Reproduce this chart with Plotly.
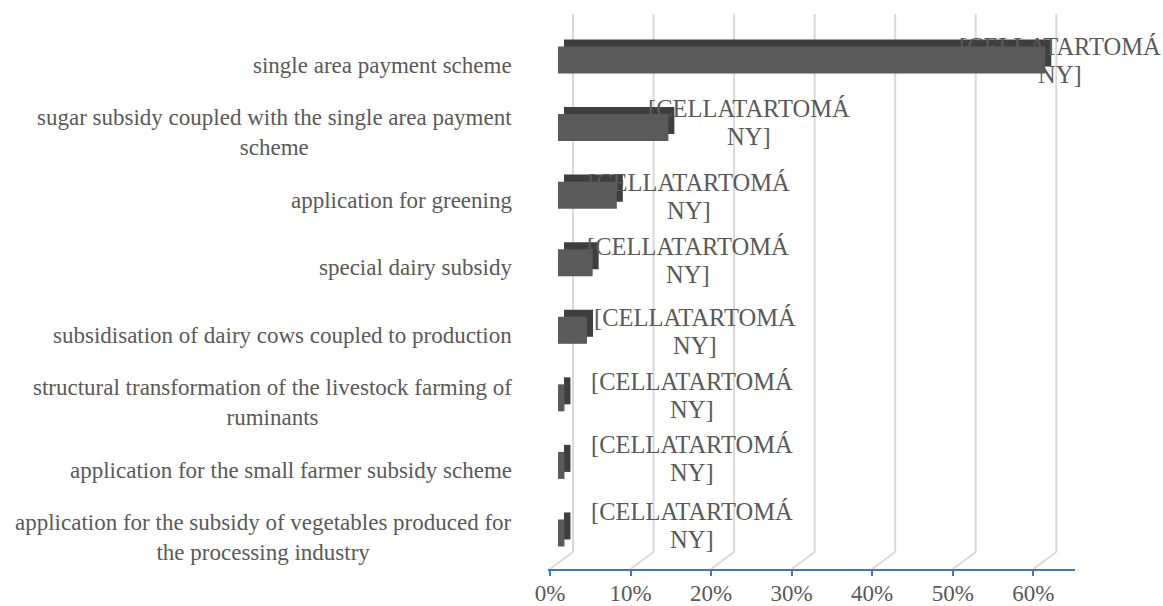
import plotly.graph_objects as go

# ---------------- data ----------------
categories = [
    "single area payment scheme",
    "sugar subsidy coupled with the single area payment<br>scheme",
    "application for greening",
    "special dairy subsidy",
    "subsidisation of dairy cows coupled to production",
    "structural transformation of the livestock farming of<br>ruminants",
    "application for the small farmer subsidy scheme",
    "application for the subsidy of vegetables produced for<br>the processing industry",
]
values = [0.605, 0.137, 0.073, 0.043, 0.036, 0.008, 0.008, 0.008]
label_lines = ["[CELLATARTOMÁ", "NY]"]
tick_vals = [0, 0.1, 0.2, 0.3, 0.4, 0.5, 0.6]
tick_text = ["0%", "10%", "20%", "30%", "40%", "50%", "60%"]

# ---------------- styling ----------------
W, H = 1163, 606
FONT = "Liberation Serif"
TXT = "#595959"
FRONT = "#5a5a5a"
BACK = "#3e3e3e"
GRID = "#d9d9d9"
AXIS = "#4472c4"
label_dx = [15, 81, 72, 95, 108, 128, 128, 128]
label_dy = [5, 10, 4, 7, 4, 7, 12, 12]
line_gap = 14


def fx(p):
    return p / W


def fy(p):
    return 1 - p / H


n = len(categories)
idx = list(range(n))
xr = [-0.0025, 0.6518]
x_dom = (548, 1075)
depth = 23

fig = go.Figure()

# back (top/side faces) bars
fig.add_trace(go.Bar(
    y=idx, x=values, orientation="h", xaxis="x2", yaxis="y",
    width=0.40, offset=-0.378, marker=dict(color=BACK, line=dict(width=0)),
    hoverinfo="skip", showlegend=False,
))
# front faces
fig.add_trace(go.Bar(
    y=idx, x=values, orientation="h", xaxis="x3", yaxis="y",
    width=0.40, offset=-0.274, marker=dict(color=FRONT, line=dict(width=0)),
    showlegend=False,
))

shapes = []
for t in tick_vals:
    shapes.append(dict(type="line", xref="x", xsizemode="pixel", xanchor=t,
                       x0=depth, x1=depth, yref="paper", y0=fy(552), y1=fy(14),
                       line=dict(color=GRID, width=2), layer="below"))
    shapes.append(dict(type="line", xref="x", xsizemode="pixel", xanchor=t,
                       x0=0, x1=depth, yref="paper", y0=fy(569), y1=fy(552),
                       line=dict(color=GRID, width=2), layer="below"))

annotations = []
for i, c in enumerate(categories):
    annotations.append(dict(
        xref="paper", x=fx(514), xanchor="right", yref="y", y=i, yanchor="middle",
        text=c, showarrow=False, align="center",
        font=dict(family=FONT, size=23, color=TXT),
    ))
for i, v in enumerate(values):
    for k, line in enumerate(label_lines):
        annotations.append(dict(
            xref="x3", x=v, xanchor="center", yref="y", y=i, yanchor="middle",
            xshift=label_dx[i], yshift=label_dy[i] + (line_gap if k == 0 else -line_gap),
            text=line, showarrow=False, align="center",
            font=dict(family=FONT, size=24.5, color=TXT),
        ))

fig.update_layout(
    template="none",
    width=W, height=H,
    margin=dict(l=0, r=0, t=0, b=0, pad=0),
    paper_bgcolor="white", plot_bgcolor="rgba(0,0,0,0)",
    barmode="overlay",
    font=dict(family=FONT, size=23, color=TXT),
    xaxis=dict(domain=[fx(x_dom[0]), fx(x_dom[1])], range=xr, automargin=False,
               anchor="y",
               tickvals=tick_vals, ticktext=tick_text,
               showgrid=False, zeroline=False,
               showline=True, linecolor=AXIS, linewidth=2,
               ticks="outside", ticklen=5, tickwidth=2, tickcolor=AXIS,
               tickfont=dict(family=FONT, size=23, color=TXT),
               ticklabelstandoff=-3, fixedrange=True),
    xaxis2=dict(anchor="y", domain=[fx(x_dom[0] + 14), fx(x_dom[1] + 14)],
                range=xr, visible=False, fixedrange=True, automargin=False),
    xaxis3=dict(anchor="y", domain=[fx(x_dom[0] + 8), fx(x_dom[1] + 8)],
                range=xr, visible=False, fixedrange=True, automargin=False),
    yaxis=dict(anchor="x", domain=[fy(569), fy(14)], range=[7.459, -0.755],
               automargin=False,
               showticklabels=False, showgrid=False, zeroline=False,
               showline=False, fixedrange=True),
    shapes=shapes,
    annotations=annotations,
)

fig.write_html("out.html", config={"displayModeBar": False},
               post_script="document.body.style.margin='0';document.body.style.padding='0';")
